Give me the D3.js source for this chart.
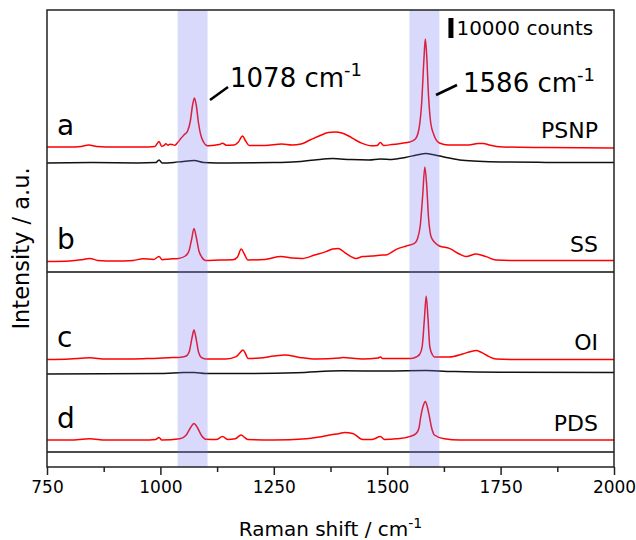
<!DOCTYPE html>
<html>
<head>
<meta charset="utf-8">
<script src="https://cdn.jsdelivr.net/npm/d3@7"></script>
<style>
  body { margin: 0; background: #fff; }
  text { font-family: "DejaVu Sans", sans-serif; fill: #000; }
</style>
</head>
<body>
<div class="canvas"></div>
<script>
// x axis ticks (cm-1)
const majorTicks = [750, 1000, 1250, 1500, 1750, 2000];
const minorTicks = [875, 1125, 1375, 1625, 1875];
// highlighted bands (cm-1)
const bandRanges = [[1038, 1104], [1549, 1615]];
const sampleLetters = ["a", "b", "c", "d"];
const sampleNames = ["PSNP", "SS", "OI", "PDS"];
// vertical stacking offsets (counts)
const sampleOffsets = [160000, 103000, 54000, 13500];
const blankOffsets = [152000, 97500, 46500, 7500];
const scaleBarCounts = 10000;

// [Raman shift, counts above offset]
const psnpSpectrum = [[750,0],[800,0],[825,300],[842,1000],[860,300],[900,0],[960,0],[988,300],[997,2800],[1003,300],[1008,800],[1012,1600],[1017,900],[1021,1400],[1026,1200],[1032,900],[1038,2200],[1046,4500],[1053,6200],[1060,8000],[1066,13000],[1071,21000],[1075,24500],[1079,21000],[1084,12000],[1089,6000],[1095,2500],[1104,600],[1115,800],[1130,1200],[1137,1900],[1145,900],[1162,1000],[1172,2500],[1181,5500],[1188,3000],[1196,800],[1230,800],[1268,1500],[1290,1000],[1310,1500],[1330,3500],[1350,5500],[1370,7200],[1385,7500],[1400,7000],[1415,5500],[1430,3500],[1445,1800],[1465,600],[1478,800],[1485,2200],[1492,800],[1510,1200],[1530,1800],[1550,2500],[1562,4000],[1570,9000],[1576,22000],[1581,44000],[1584,54000],[1587,46000],[1591,26000],[1596,12000],[1603,6000],[1615,2000],[1635,1000],[1680,1000],[1700,1800],[1712,1800],[1725,1000],[1755,0],[1850,-300],[2000,-500]];
const psnpBlank = [[750,0],[850,200],[950,0],[990,200],[997,1500],[1004,0],[1030,300],[1050,800],[1075,1200],[1095,300],[1150,0],[1250,200],[1300,600],[1340,1500],[1380,2200],[1420,1700],[1460,1500],[1485,2000],[1510,1800],[1540,2800],[1565,4000],[1585,4800],[1605,4000],[1625,3000],[1660,1500],[1700,900],[1750,500],[1850,300],[2000,200]];
const ssSpectrum = [[750,-300],[800,0],[825,600],[844,1300],[862,300],[900,0],[940,300],[962,1100],[985,800],[997,2200],[1004,600],[1020,1000],[1040,1300],[1055,2500],[1063,5000],[1069,11000],[1074,16300],[1079,12000],[1085,5000],[1091,2000],[1100,300],[1130,500],[1160,600],[1170,2000],[1178,6000],[1185,3500],[1193,500],[1230,800],[1266,2200],[1290,1500],[1313,1300],[1340,3000],[1365,4700],[1380,6000],[1392,6300],[1409,3800],[1431,1300],[1446,2200],[1467,2500],[1483,2900],[1497,3000],[1520,5800],[1542,7500],[1560,8800],[1567,11300],[1573,18000],[1578,32000],[1583,47000],[1587,38000],[1591,22000],[1597,12000],[1606,9000],[1615,7500],[1637,6300],[1659,3500],[1674,2200],[1696,3500],[1718,2200],[1740,500],[1800,200],[2000,200]];
const ssBlank = [[750,0],[2000,0]];
const oiSpectrum = [[750,-300],[800,0],[844,600],[880,0],[940,0],[983,300],[1028,700],[1045,900],[1057,1500],[1064,4000],[1070,11000],[1074,14500],[1078,11000],[1084,3500],[1090,800],[1100,0],[1145,0],[1167,1200],[1175,3000],[1182,4500],[1188,2500],[1193,300],[1219,500],[1250,1500],[1274,2000],[1307,800],[1343,0],[1395,500],[1402,800],[1445,0],[1480,500],[1485,1000],[1490,200],[1553,300],[1564,1000],[1572,2500],[1577,6000],[1582,20000],[1586,31500],[1590,20000],[1594,6000],[1600,2000],[1604,1000],[1637,1000],[1666,2500],[1685,3800],[1696,4200],[1706,3500],[1718,2000],[1740,0],[1800,-300],[2000,-300]];
const oiBlank = [[750,0],[1000,300],[1050,700],[1075,800],[1100,300],[1200,300],[1300,600],[1400,1600],[1500,1500],[1586,1700],[1650,1200],[1750,900],[2000,800]];
const pdsSpectrum = [[750,0],[800,0],[844,600],[880,0],[960,0],[990,300],[997,1300],[1003,0],[1043,600],[1057,2500],[1066,6000],[1074,8300],[1082,6000],[1090,2500],[1100,400],[1123,200],[1137,1700],[1149,200],[1165,600],[1178,2500],[1186,1200],[1193,200],[1248,0],[1322,600],[1350,1500],[1373,2500],[1395,3300],[1406,3800],[1424,3300],[1446,300],[1467,300],[1485,1700],[1494,300],[1520,600],[1549,1700],[1564,3300],[1570,6000],[1574,11700],[1580,17500],[1584,19200],[1588,17000],[1593,11700],[1598,6000],[1604,2500],[1626,600],[1660,0],[2000,0]];
const pdsBlank = [[750,0],[2000,0]];

const sampleSpectra = [psnpSpectrum, ssSpectrum, oiSpectrum, pdsSpectrum];
const blankSpectra = [psnpBlank, ssBlank, oiBlank, pdsBlank];

const width = 636, height = 540;
const margin = { top: 10, right: 22, bottom: 73, left: 47 };
const graphWidth = width - margin.left - margin.right;
const graphHeight = height - margin.top - margin.bottom;

const svg = d3.select(".canvas")
    .append("svg")
    .attr("width", width)
    .attr("height", height);

const graph = svg.append("g")
    .attr("transform", `translate(${margin.left}, ${margin.top})`);

const x = d3.scaleLinear()
    .domain([750, 2000])
    .range([0, graphWidth]);
const y = d3.scaleLinear()
    .domain([0, 228500])
    .range([graphHeight, 0]);

svg.append("defs").append("clipPath")
    .attr("id", "plot-clip")
    .append("rect")
    .attr("width", graphWidth)
    .attr("height", graphHeight);

const plot = graph.append("g").attr("clip-path", "url(#plot-clip)");

const lineFor = offset => d3.line()
    .x(d => x(d[0]))
    .y(d => y(d[1] + offset))
    .curve(d3.curveMonotoneX);

blankSpectra.forEach((data, i) => {
    plot.append("path")
        .datum(data)
        .attr("fill", "none")
        .attr("stroke", "#111")
        .attr("stroke-width", 1.5)
        .attr("d", lineFor(blankOffsets[i]));
});

sampleSpectra.forEach((data, i) => {
    plot.append("path")
        .datum(data)
        .attr("fill", "none")
        .attr("stroke", "#ff0000")
        .attr("stroke-width", 1.5)
        .attr("d", lineFor(sampleOffsets[i]));
});

// translucent bands over the lines
plot.selectAll("rect.band")
    .data(bandRanges)
    .enter()
    .append("rect")
    .attr("class", "band")
    .attr("x", d => x(d[0]))
    .attr("width", d => x(d[1]) - x(d[0]))
    .attr("y", 0)
    .attr("height", graphHeight)
    .attr("fill", "rgb(120,120,240)")
    .attr("fill-opacity", 0.28);

// frame
graph.append("rect")
    .attr("width", graphWidth)
    .attr("height", graphHeight)
    .attr("fill", "none")
    .attr("stroke", "#222")
    .attr("stroke-width", 1.5);

// bottom axis
const xAxisGroup = graph.append("g")
    .attr("transform", `translate(0, ${graphHeight})`);
xAxisGroup.call(d3.axisBottom(x).tickValues(majorTicks).tickSize(8).tickPadding(6).tickFormat(d3.format("d")));
xAxisGroup.append("g")
    .call(d3.axisBottom(x).tickValues(minorTicks).tickSize(5).tickFormat(""));
xAxisGroup.selectAll(".domain").remove();
xAxisGroup.selectAll("line").attr("stroke", "#222").attr("stroke-width", 1.5);
xAxisGroup.selectAll("text")
    .attr("font-size", 17)
    .attr("font-family", "DejaVu Sans, sans-serif")
    .attr("fill", "#000");

// axis titles
const xTitle = svg.append("text")
    .attr("x", margin.left + graphWidth / 2)
    .attr("y", 536)
    .attr("text-anchor", "middle")
    .attr("font-size", 20);
xTitle.append("tspan").text("Raman shift / cm");
xTitle.append("tspan").attr("dy", -8).attr("font-size", 14).text("-1");

svg.append("text")
    .attr("transform", `translate(29, ${margin.top + graphHeight / 2 + 10}) rotate(-90)`)
    .attr("text-anchor", "middle")
    .attr("font-size", 22.5)
    .text("Intensity / a.u.");

// sample letters and names
graph.selectAll("text.letter")
    .data(sampleLetters)
    .enter()
    .append("text")
    .attr("class", "letter")
    .attr("x", 10)
    .attr("y", (d, i) => y(sampleOffsets[i]) - 12)
    .attr("font-size", 28)
    .text(d => d);

graph.selectAll("text.name")
    .data(sampleNames)
    .enter()
    .append("text")
    .attr("class", "name")
    .attr("x", graphWidth - 16)
    .attr("y", (d, i) => y(sampleOffsets[i]) - 9)
    .attr("text-anchor", "end")
    .attr("font-size", 22)
    .text(d => d);

// scale bar
graph.append("rect")
    .attr("x", x(1635))
    .attr("y", y(224500))
    .attr("width", 5)
    .attr("height", y(0) - y(scaleBarCounts))
    .attr("fill", "#000");
graph.append("text")
    .attr("x", x(1635) + 8)
    .attr("y", 25)
    .attr("font-size", 20)
    .text("10000 counts");

// peak annotations
const peakLabels = [
    { text: "1078 cm", line: [[163, 90], [181, 77]], pos: [183, 77] },
    { text: "1586 cm", line: [[389, 85], [410, 75]], pos: [416, 82] }
];
peakLabels.forEach(p => {
    graph.append("line")
        .attr("x1", p.line[0][0]).attr("y1", p.line[0][1])
        .attr("x2", p.line[1][0]).attr("y2", p.line[1][1])
        .attr("stroke", "#000")
        .attr("stroke-width", 2.5);
    const t = graph.append("text")
        .attr("x", p.pos[0])
        .attr("y", p.pos[1])
        .attr("font-size", 26);
    t.append("tspan").text(p.text);
    t.append("tspan").attr("dy", -11).attr("font-size", 18).text("-1");
});
</script>
</body>
</html>
